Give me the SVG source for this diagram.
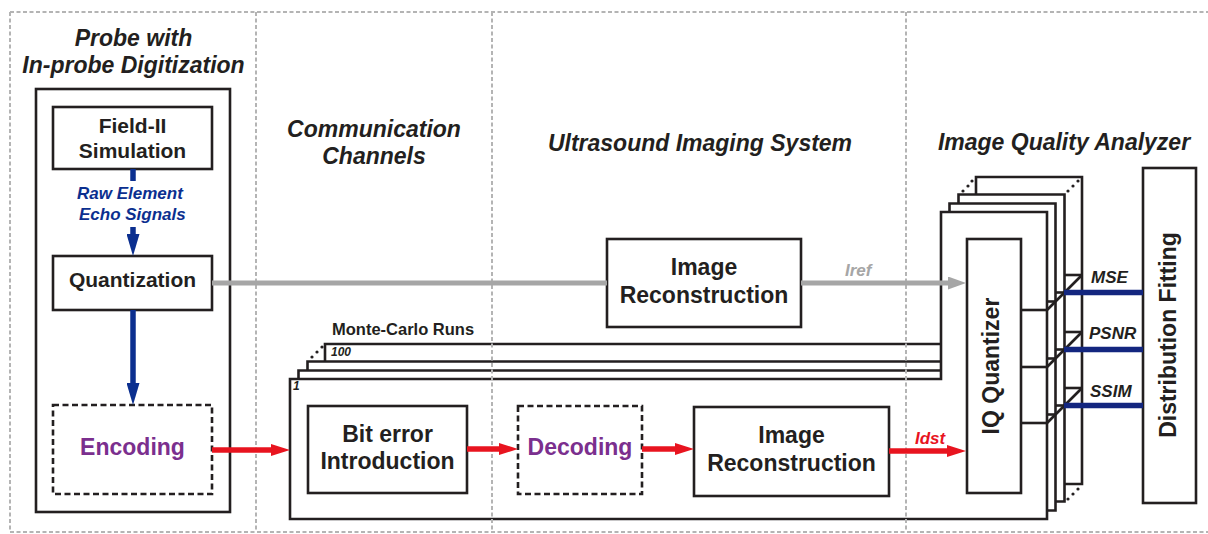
<svg xmlns="http://www.w3.org/2000/svg" width="1208" height="534" viewBox="0 0 1208 534">
<defs>
<style>
.box{fill:#fff;stroke:#231f20;stroke-width:2.6}
.dbox{fill:#fff;stroke:#231f20;stroke-width:2.6;stroke-dasharray:6 3.5}
.frame{fill:#fff;stroke:#231f20;stroke-width:2.6;stroke-linejoin:miter}
.ln{fill:none;stroke:#231f20;stroke-width:2.6}
.sep{fill:none;stroke:#b4b4b4;stroke-width:2;stroke-dasharray:4 2.5}
.t{font-family:"Liberation Sans",Arial,sans-serif;font-weight:bold;fill:#231f20}
.title{font-size:23px;font-style:italic;text-anchor:middle}
.node{font-size:23px;text-anchor:middle}
.small{font-size:21px;text-anchor:middle}
.purple{fill:#7b2f8e}
.lab{font-size:17px;font-style:italic}
.blue{stroke:#0b2f8f;stroke-width:5.5;fill:none}
.red{stroke:#e8141f;stroke-width:5.5;fill:none}
.gray{stroke:#a6a6a6;stroke-width:5;fill:none}
.bluel{stroke:#13267f;stroke-width:5.5;fill:none}
.dot{fill:#231f20}
</style>
<marker id="hb" markerUnits="userSpaceOnUse" markerWidth="22" markerHeight="13" refX="0" refY="6.5" orient="auto"><path d="M0,0 L22,6.5 L0,13 z" fill="#0b2f8f"/></marker>
<marker id="hr" markerUnits="userSpaceOnUse" markerWidth="19" markerHeight="12" refX="0" refY="6" orient="auto"><path d="M0,0 L19,6 L0,12 z" fill="#e8141f"/></marker>
<marker id="hg" markerUnits="userSpaceOnUse" markerWidth="18" markerHeight="13" refX="0" refY="6.5" orient="auto"><path d="M0,0 L18,6.5 L0,13 z" fill="#a6a6a6"/></marker>
</defs>
<rect width="1208" height="534" fill="#fff"/>

<!-- stacked frames (Monte-Carlo runs + IQ analyzer) back to front -->
<g id="monte-carlo-stack">
<g transform="translate(35,-35)">
<polygon class="frame" points="290,379 941,379 941,212 1047,212 1047,519 290,519"/>
<line class="ln" x1="1021" y1="310" x2="1047" y2="310"/><line class="ln" x1="1021" y1="367" x2="1047" y2="367"/><line class="ln" x1="1021" y1="423" x2="1047" y2="423"/>
</g>
<g transform="translate(17.5,-17.5)">
<polygon class="frame" points="290,379 941,379 941,212 1047,212 1047,519 290,519"/>
<line class="ln" x1="1021" y1="310" x2="1047" y2="310"/><line class="ln" x1="1021" y1="367" x2="1047" y2="367"/><line class="ln" x1="1021" y1="423" x2="1047" y2="423"/>
</g>
<g transform="translate(8.5,-8.5)">
<polygon class="frame" points="290,379 941,379 941,212 1047,212 1047,519 290,519"/>
<line class="ln" x1="1021" y1="310" x2="1047" y2="310"/><line class="ln" x1="1021" y1="367" x2="1047" y2="367"/><line class="ln" x1="1021" y1="423" x2="1047" y2="423"/>
</g>
<polygon class="frame" points="290,379 941,379 941,212 1047,212 1047,519 290,519"/>
<line class="ln" x1="1021" y1="310" x2="1047" y2="310"/><line class="ln" x1="1021" y1="367" x2="1047" y2="367"/><line class="ln" x1="1021" y1="423" x2="1047" y2="423"/>
<circle class="dot" cx="312" cy="357" r="1.6"/><circle class="dot" cx="317" cy="352" r="1.6"/><circle class="dot" cx="322" cy="347" r="1.6"/>
<circle class="dot" cx="963" cy="191" r="1.6"/><circle class="dot" cx="968" cy="186" r="1.6"/><circle class="dot" cx="972" cy="181" r="1.6"/>
<circle class="dot" cx="1068" cy="191" r="1.6"/><circle class="dot" cx="1073" cy="186" r="1.6"/><circle class="dot" cx="1078" cy="181" r="1.6"/>
<circle class="dot" cx="1068" cy="499" r="1.6"/><circle class="dot" cx="1073" cy="494" r="1.6"/><circle class="dot" cx="1078" cy="489" r="1.6"/>
<text class="t" x="332" y="335" font-size="16.5">Monte-Carlo Runs</text>
<text class="t" x="331" y="356" font-size="12" font-style="italic">100</text>
<text class="t" x="293" y="390" font-size="12" font-style="italic">1</text>
</g>

<!-- section separators -->
<g id="separators">
<path class="sep" d="M10,12 H1208 M10,532 H1208 M10,12 V532 M256,12 V532 M492,12 V532 M906,12 V532"/>
</g>

<g id="titles">
<text class="t title" x="133.5" y="46">Probe with</text>
<text class="t title" x="133.5" y="73">In-probe Digitization</text>
<text class="t title" x="374" y="137">Communication</text>
<text class="t title" x="374" y="164">Channels</text>
<text class="t title" x="700" y="151">Ultrasound Imaging System</text>
<text class="t title" x="1064" y="150">Image Quality Analyzer</text>
</g>

<g id="probe">
<rect class="box" x="36" y="89" width="194" height="423"/>
</g>
<g id="field-ii">
<rect class="box" x="53" y="107" width="159" height="62"/>
<text class="t small" x="132.5" y="133">Field-II</text>
<text class="t small" x="132.5" y="158">Simulation</text>
</g>
<g id="quantization">
<rect class="box" x="53" y="256" width="159" height="54"/>
<text class="t small" x="132.5" y="287">Quantization</text>
</g>
<g id="encoding">
<rect class="dbox" x="53" y="405" width="159" height="89"/>
<text class="t node purple" x="132.5" y="455">Encoding</text>
</g>
<g id="image-reconstruction-ref">
<rect class="box" x="607" y="239" width="194" height="88"/>
<text class="t node" x="704" y="275">Image</text>
<text class="t node" x="704" y="303">Reconstruction</text>
</g>
<g id="bit-error">
<rect class="box" x="308" y="406" width="159" height="87"/>
<text class="t node" x="387.5" y="442">Bit error</text>
<text class="t node" x="387.5" y="469">Introduction</text>
</g>
<g id="decoding">
<rect class="dbox" x="518" y="406" width="124" height="88"/>
<text class="t node purple" x="580" y="455">Decoding</text>
</g>
<g id="image-reconstruction-dst">
<rect class="box" x="694" y="407" width="195" height="89"/>
<text class="t node" x="791.5" y="443">Image</text>
<text class="t node" x="791.5" y="471">Reconstruction</text>
</g>
<g id="iq-quantizer">
<rect class="box" x="967" y="239" width="54" height="254"/>
<text class="t node" transform="translate(998.5,366) rotate(-90)">IQ Quantizer</text>
</g>
<g id="distribution-fitting">
<rect class="box" x="1143" y="168" width="53" height="335"/>
<text class="t node" transform="translate(1175.5,335) rotate(-90)">Distribution Fitting</text>
</g>

<g id="connectors">
<line class="blue" x1="133" y1="169" x2="133" y2="181"/>
<line class="blue" x1="133" y1="227" x2="133" y2="234" marker-end="url(#hb)"/>
<line class="blue" x1="133" y1="310" x2="133" y2="383" marker-end="url(#hb)"/>
<line class="red" x1="212" y1="450" x2="271" y2="450" marker-end="url(#hr)"/>
<line class="red" x1="467" y1="449" x2="499" y2="449" marker-end="url(#hr)"/>
<line class="red" x1="642" y1="449" x2="675" y2="449" marker-end="url(#hr)"/>
<line class="red" x1="889" y1="451" x2="947" y2="451" marker-end="url(#hr)"/>
<line class="gray" x1="212" y1="283" x2="607" y2="283"/>
<line class="gray" x1="801" y1="283" x2="948" y2="283" marker-end="url(#hg)"/>
<line class="ln" x1="1047" y1="310" x2="1082" y2="275"/>
<line class="ln" x1="1047" y1="367" x2="1082" y2="332"/>
<line class="ln" x1="1047" y1="423" x2="1082" y2="388"/>
<line class="bluel" x1="1064" y1="292.5" x2="1143" y2="292.5"/>
<line class="bluel" x1="1064" y1="349.5" x2="1143" y2="349.5"/>
<line class="bluel" x1="1064" y1="405.5" x2="1143" y2="405.5"/>
<text class="t lab" x="77" y="199" fill="#0b2f8f" style="fill:#0b2f8f">Raw Element</text>
<text class="t lab" x="79" y="220" style="fill:#0b2f8f">Echo Signals</text>
<text class="t lab" x="845" y="276" style="fill:#a6a6a6">Iref</text>
<text class="t lab" x="915" y="444" style="fill:#e8141f">Idst</text>
<text class="t lab" x="1091" y="283">MSE</text>
<text class="t lab" x="1089" y="339">PSNR</text>
<text class="t lab" x="1090" y="397">SSIM</text>
</g>
</svg>
